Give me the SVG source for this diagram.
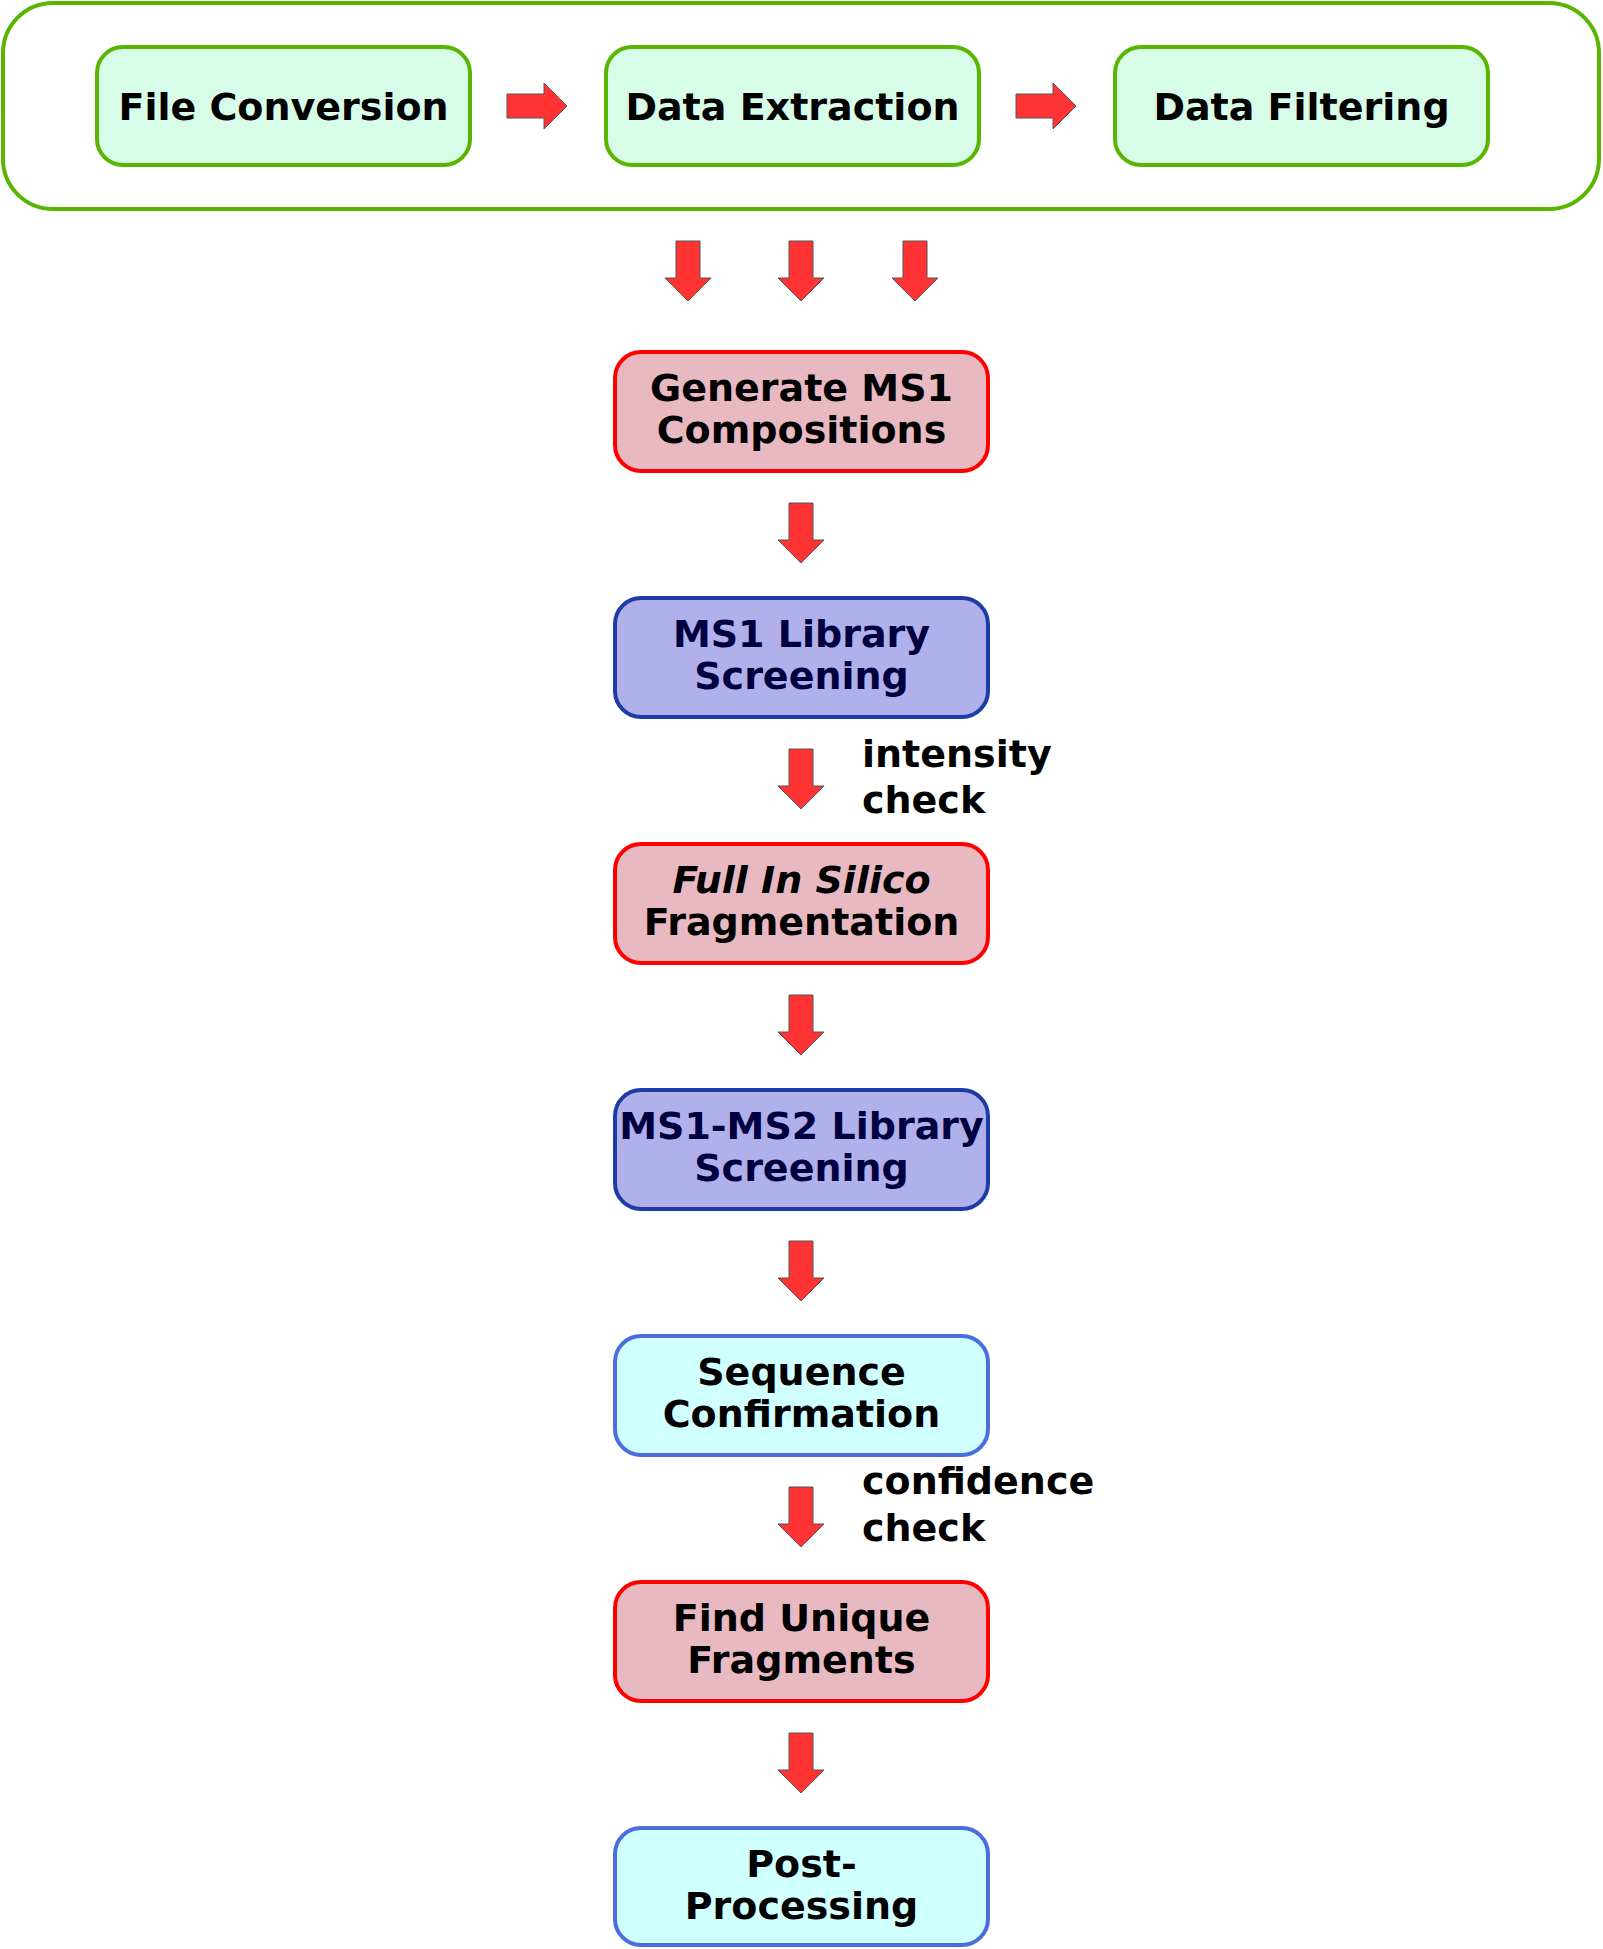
<svg xmlns="http://www.w3.org/2000/svg" width="1603" height="1949" viewBox="0 0 1603 1949">
<style>
text{font-family:"DejaVu Sans","Verdana",sans-serif;font-weight:bold;font-size:38px;fill:#000}
.box{stroke-width:4}
.green{fill:#d7fde9;stroke:#58b600}
.red{fill:#e9b9c2;stroke:#ff0000}
.blue{fill:#b0b0ea;stroke:#1e3ca8}
.cyan{fill:#d0ffff;stroke:#4a6ee0}
.c{text-anchor:middle}
.navy{fill:#000040}
.arrow{fill:#ff3333;stroke:#555;stroke-width:1}
</style>
<defs>
<path id="arr" class="arrow" d="M-12,0 H12 V37 H23 L0,60 L-23,37 H-12 Z"/>
</defs>
<rect x="0" y="0" width="1603" height="1949" fill="#fff"/>
<g id="container">
<rect x="3" y="3" width="1596" height="206" rx="50" fill="none" stroke="#58b600" stroke-width="4"/>
</g>
<g id="n-file-conversion">
<rect class="box green" x="97" y="47" width="373" height="118" rx="26"/>
<text class="c" x="283.5" y="120">File Conversion</text>
</g>
<g id="n-data-extraction">
<rect class="box green" x="606" y="47" width="373" height="118" rx="26"/>
<text class="c" x="792.5" y="120">Data Extraction</text>
</g>
<g id="n-data-filtering">
<rect class="box green" x="1115" y="47" width="373" height="118" rx="26"/>
<text class="c" x="1301.5" y="120">Data Filtering</text>
</g>
<g id="n-generate">
<rect class="box red" x="615" y="352" width="373" height="119" rx="26"/>
<text class="c" x="801.5" y="401">Generate MS1</text>
<text class="c" x="801.5" y="443">Compositions</text>
</g>
<g id="n-ms1-library">
<rect class="box blue" x="615" y="598" width="373" height="119" rx="26"/>
<text class="c navy" x="801.5" y="647">MS1 Library</text>
<text class="c navy" x="801.5" y="689">Screening</text>
</g>
<g id="n-full-in-silico">
<rect class="box red" x="615" y="844" width="373" height="119" rx="26"/>
<text class="c" x="801.5" y="893" font-style="italic">Full In Silico</text>
<text class="c" x="801.5" y="935">Fragmentation</text>
</g>
<g id="n-ms1-ms2">
<rect class="box blue" x="615" y="1090" width="373" height="119" rx="26"/>
<text class="c navy" x="801.5" y="1139">MS1-MS2 Library</text>
<text class="c navy" x="801.5" y="1181">Screening</text>
</g>
<g id="n-sequence">
<rect class="box cyan" x="615" y="1336" width="373" height="119" rx="26"/>
<text class="c" x="801.5" y="1385">Sequence</text>
<text class="c" x="801.5" y="1427">Confirmation</text>
</g>
<g id="n-find-unique">
<rect class="box red" x="615" y="1582" width="373" height="119" rx="26"/>
<text class="c" x="801.5" y="1631">Find Unique</text>
<text class="c" x="801.5" y="1673">Fragments</text>
</g>
<g id="n-post">
<rect class="box cyan" x="615" y="1828" width="373" height="117" rx="26"/>
<text class="c" x="801.5" y="1877">Post-</text>
<text class="c" x="801.5" y="1919">Processing</text>
</g>
<g id="connectors">
<use href="#arr" transform="translate(507,106) rotate(-90)"/>
<use href="#arr" transform="translate(1016,106) rotate(-90)"/>
<use href="#arr" transform="translate(688,241)"/>
<use href="#arr" transform="translate(801,241)"/>
<use href="#arr" transform="translate(915,241)"/>
<use href="#arr" transform="translate(801,503)"/>
<use href="#arr" transform="translate(801,749)"/>
<use href="#arr" transform="translate(801,995)"/>
<use href="#arr" transform="translate(801,1241)"/>
<use href="#arr" transform="translate(801,1487)"/>
<use href="#arr" transform="translate(801,1733)"/>
<text x="862" y="767">intensity</text>
<text x="862" y="813">check</text>
<text x="862" y="1494">confidence</text>
<text x="862" y="1541">check</text>
</g>
</svg>
